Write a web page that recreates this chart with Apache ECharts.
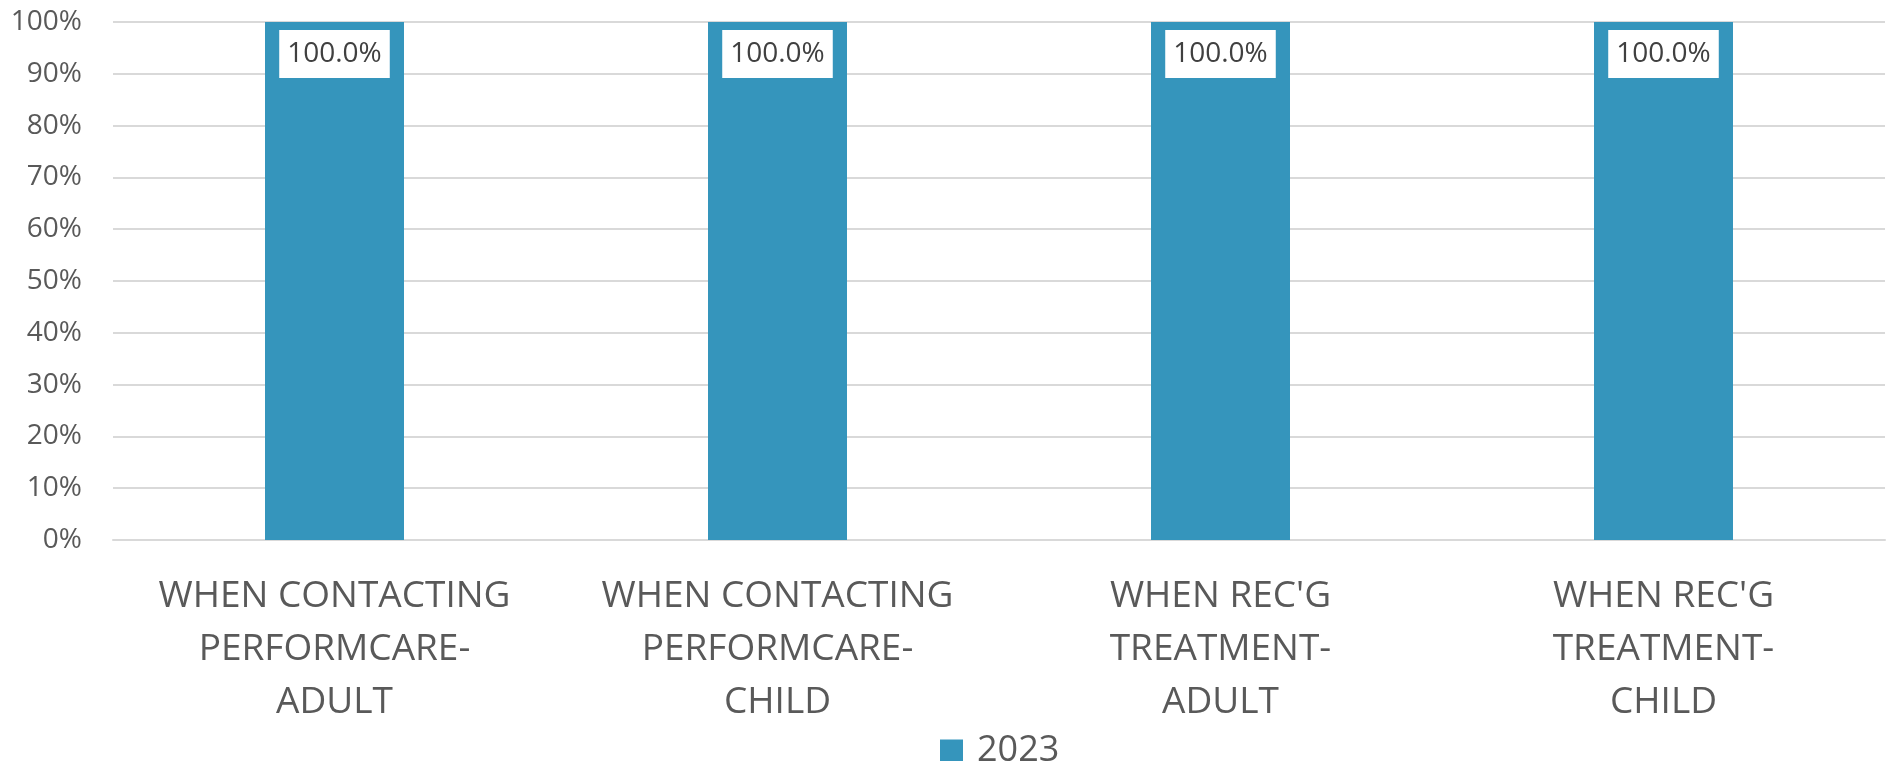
<!DOCTYPE html>
<html>
<head>
<meta charset="utf-8">
<script src="https://cdn.jsdelivr.net/npm/echarts@6/dist/echarts.min.js"></script>
<style>
  html, body { margin: 0; padding: 0; background: #ffffff; }
  #chart { width: 1891px; height: 761px; }
</style>
</head>
<body>
<div id="chart"></div>
<script>
// Response categories along the x axis
const categories = [
  "WHEN CONTACTING\nPERFORMCARE-\nADULT",
  "WHEN CONTACTING\nPERFORMCARE-\nCHILD",
  "WHEN REC'G\nTREATMENT-\nADULT",
  "WHEN REC'G\nTREATMENT-\nCHILD"
];
// Percent values for the 2023 series
const seriesName = "2023";
const values2023 = [100.0, 100.0, 100.0, 100.0];
// Y axis ticks (percent)
const yTicks = [0, 10, 20, 30, 40, 50, 60, 70, 80, 90, 100];

const textColor = "#595959";
const fontFamily = "'Open Sans', 'Noto Sans', sans-serif";

const chart = echarts.init(document.getElementById("chart"));
chart.setOption({
  animation: false,
  backgroundColor: "#ffffff",
  textStyle: { fontFamily: fontFamily },
  grid: { left: 113, right: 6, top: 22, bottom: 221, containLabel: false },
  legend: {
    data: [seriesName],
    top: 733,
    left: 940,
    padding: 0,
    itemWidth: 23,
    itemHeight: 23,
    icon: "rect",
    textStyle: { color: textColor, fontSize: 36, padding: [0, 0, 0, 9], fontFamily: fontFamily }
  },
  xAxis: {
    type: "category",
    data: categories,
    axisLine: { show: true, lineStyle: { color: "#d9d9d9", width: 2 } },
    axisTick: { show: false },
    axisLabel: {
      color: textColor,
      fontSize: 37,
      lineHeight: 53,
      margin: 30,
      interval: 0,
      align: "center",
      fontFamily: fontFamily
    }
  },
  yAxis: {
    type: "value",
    min: yTicks[0],
    max: yTicks[yTicks.length - 1],
    interval: yTicks[1] - yTicks[0],
    axisLine: { show: false },
    axisTick: { show: false },
    splitLine: { show: true, lineStyle: { color: "#d9d9d9", width: 2 } },
    axisLabel: {
      color: textColor,
      fontSize: 28,
      margin: 31,
      formatter: v => v + "%",
      fontFamily: fontFamily
    }
  },
  series: [{
    name: seriesName,
    type: "bar",
    data: values2023,
    barWidth: 139,
    itemStyle: { color: "#3595bc" },
    label: {
      show: true,
      position: "insideTop",
      distance: 8,
      formatter: p => p.value.toFixed(1) + "%",
      color: "#404040",
      fontSize: 28,
      lineHeight: 34,
      backgroundColor: "#ffffff",
      padding: [7, 8, 7, 8],
      fontFamily: fontFamily
    }
  }]
});
</script>
</body>
</html>
